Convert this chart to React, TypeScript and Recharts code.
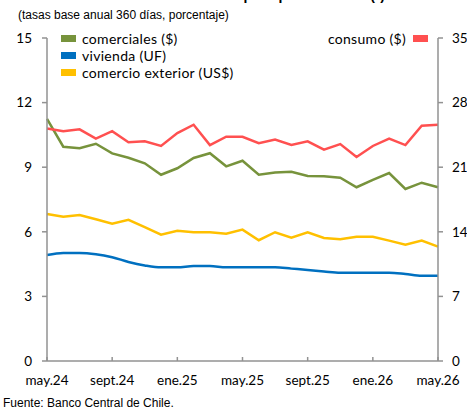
import React from 'react';
import { LineChart, Line, XAxis, YAxis } from 'recharts';

const months = [
  'may.24', 'jun.24', 'jul.24', 'ago.24', 'sept.24', 'oct.24', 'nov.24', 'dic.24',
  'ene.25', 'feb.25', 'mar.25', 'abr.25', 'may.25', 'jun.25', 'jul.25', 'ago.25',
  'sept.25', 'oct.25', 'nov.25', 'dic.25', 'ene.26', 'feb.26', 'mar.26', 'abr.26', 'may.26'
];

const comerciales = [
  11.24, 9.95, 9.88, 10.09, 9.64, 9.44, 9.18, 8.65, 8.95, 9.43, 9.65, 9.04, 9.3,
  8.65, 8.75, 8.79, 8.59, 8.58, 8.51, 8.07, 8.41, 8.73, 7.99, 8.28, 8.07
];
const vivienda = [
  4.92, 5.02, 5.02, 4.96, 4.82, 4.6, 4.44, 4.35, 4.35, 4.41, 4.41, 4.35, 4.35,
  4.35, 4.35, 4.29, 4.23, 4.16, 4.1, 4.1, 4.1, 4.1, 4.04, 3.96, 3.96
];
const comercioExterior = [
  6.83, 6.7, 6.78, 6.58, 6.38, 6.56, 6.22, 5.87, 6.05, 5.98, 5.98, 5.91, 6.1,
  5.61, 5.98, 5.73, 5.98, 5.71, 5.65, 5.77, 5.77, 5.59, 5.4, 5.59, 5.31
];
const consumo = [
  25.2, 24.9, 25.1, 24.1, 24.9, 23.7, 23.8, 23.3, 24.7, 25.6, 23.4, 24.3, 24.3,
  23.6, 24.0, 23.4, 23.8, 22.9, 23.5, 22.1, 23.3, 24.1, 23.4, 25.5, 25.6
];

const leftTicks = [0, 3, 6, 9, 12, 15];
const rightTicks = [0, 7, 14, 21, 28, 35];

const data = months.map((m, i) => ({
  month: m,
  comerciales: comerciales[i],
  vivienda: vivienda[i],
  comercioExterior: comercioExterior[i],
  consumo: consumo[i],
}));

const GREEN = '#77933C';
const BLUE = '#0070C0';
const YELLOW = '#FFC000';
const RED = '#FF5050';
const AXIS = '#929292';
const FONT = 'Lato, "Open Sans", sans-serif';

// x ticks point up into the plot, like the original
const XTick = (props: any) => {
  const { x, y, payload } = props;
  return (
    <g>
      <line x1={x} y1={y} x2={x} y2={y - 4} stroke={AXIS} strokeWidth={1.5} />
      <text x={x} y={y + 24} textAnchor="middle" fontSize={13.5} fontFamily={FONT} fill="#000">
        {payload.value}
      </text>
    </g>
  );
};

const legendLeft = [
  { label: 'comerciales ($)', color: GREEN },
  { label: 'vivienda (UF)', color: BLUE },
  { label: 'comercio exterior (US$)', color: YELLOW },
];

export default function App() {
  return (
    <div style={{ position: 'absolute', left: 0, top: 0, width: 467, height: 409, background: '#fff', overflow: 'hidden' }}>
      <div style={{ position: 'absolute', left: 18, top: -13, fontFamily: '"Liberation Sans", Arial, sans-serif', fontWeight: 'bold', fontSize: 14, whiteSpace: 'nowrap' }}>
        Tasas de interés de colocaciones por tipo de crédito (*)
      </div>
      <div style={{ position: 'absolute', left: 18, top: 8, fontFamily: '"Liberation Sans", Arial, sans-serif', fontSize: 12, whiteSpace: 'nowrap' }}>
        (tasas base anual 360 días, porcentaje)
      </div>
      <LineChart width={467} height={409} data={data} margin={{ top: 38, right: 0, bottom: 0, left: 0 }}>
        <XAxis
          dataKey="month"
          interval={3}
          height={48}
          tickSize={0}
          tickMargin={0}
          tickLine={false}
          tick={<XTick />}
          axisLine={{ stroke: AXIS, strokeWidth: 1.5 }}
        />
        <YAxis
          yAxisId="left"
          domain={[0, 15]}
          ticks={leftTicks}
          width={47}
          tickSize={5}
          tickMargin={10}
          axisLine={{ stroke: AXIS, strokeWidth: 1.5 }}
          tickLine={{ stroke: AXIS, strokeWidth: 1.5 }}
          tick={{ fontSize: 13.5, fontFamily: FONT, fill: '#000' }}
        />
        <YAxis
          yAxisId="right"
          orientation="right"
          domain={[0, 35]}
          ticks={rightTicks}
          width={29}
          tickSize={5}
          tickMargin={9}
          axisLine={{ stroke: AXIS, strokeWidth: 1.5 }}
          tickLine={{ stroke: AXIS, strokeWidth: 1.5 }}
          tick={{ fontSize: 13.5, fontFamily: FONT, fill: '#000', textAnchor: 'start' }}
        />
        <Line yAxisId="left" type="linear" dataKey="comercioExterior" stroke={YELLOW} strokeWidth={2.5} dot={false} isAnimationActive={false} />
        <Line yAxisId="left" type="monotone" dataKey="vivienda" stroke={BLUE} strokeWidth={2.5} dot={false} isAnimationActive={false} />
        <Line yAxisId="left" type="linear" dataKey="comerciales" stroke={GREEN} strokeWidth={2.5} dot={false} isAnimationActive={false} />
        <Line yAxisId="right" type="linear" dataKey="consumo" stroke={RED} strokeWidth={2.5} dot={false} isAnimationActive={false} />
      </LineChart>
      {legendLeft.map((item, i) => (
        <div key={item.label} style={{ position: 'absolute', left: 61, top: 30 + i * 17, height: 16, display: 'flex', alignItems: 'center', fontFamily: FONT, fontSize: 14, letterSpacing: 0.3, whiteSpace: 'nowrap' }}>
          <span style={{ display: 'inline-block', width: 15, height: 7, background: item.color, marginRight: 6 }} />
          {item.label}
        </div>
      ))}
      <div style={{ position: 'absolute', right: 39, top: 30, height: 16, display: 'flex', alignItems: 'center', fontFamily: FONT, fontSize: 14, letterSpacing: 0.3, whiteSpace: 'nowrap' }}>
        consumo ($)
        <span style={{ display: 'inline-block', width: 15, height: 7, background: RED, marginLeft: 7 }} />
      </div>
      <div style={{ position: 'absolute', left: 3, top: 396, fontFamily: '"Liberation Sans", Arial, sans-serif', fontSize: 12, whiteSpace: 'nowrap' }}>
        Fuente: Banco Central de Chile.
      </div>
    </div>
  );
}
